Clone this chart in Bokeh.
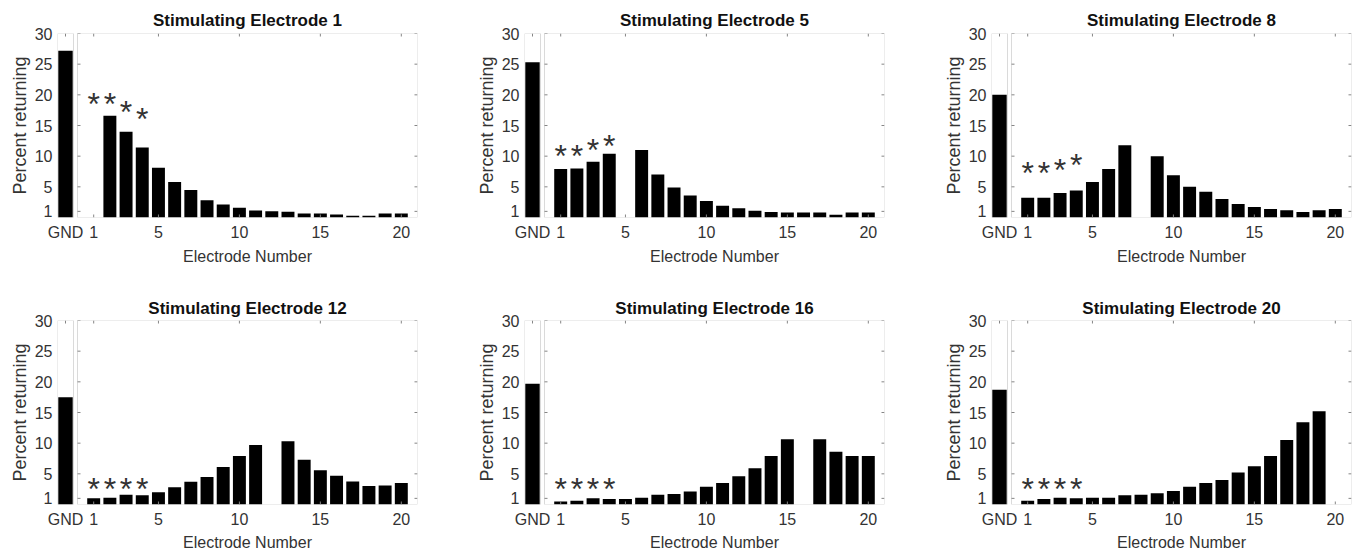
from bokeh.plotting import figure
from bokeh.layouts import row, column
from bokeh.models import Range1d, FixedTicker, LinearAxis, BoxAnnotation, Title
from bokeh.embed import file_html
from bokeh.resources import INLINE
from bokeh.core.properties import value

# ---------------- data ----------------
stim_electrodes = [1, 5, 8, 12, 16, 20]
electrodes = list(range(1, 21))
gnd_values = [27.2, 25.3, 20.0, 17.5, 19.7, 18.7]

returns_e1 = [None, 16.6, 14.0, 11.4, 8.1, 5.8, 4.5, 2.8, 2.1, 1.6,
              1.15, 1.0, 0.93, 0.65, 0.65, 0.5, 0.27, 0.27, 0.65, 0.65]
returns_e5 = [7.9, 8.0, 9.1, 10.4, None, 11.0, 7.0, 4.9, 3.6, 2.7,
              1.9, 1.5, 1.1, 0.9, 0.8, 0.8, 0.8, 0.45, 0.8, 0.8]
returns_e8 = [3.2, 3.2, 4.0, 4.4, 5.8, 7.9, 11.8, None, 10.0, 6.9,
              5.0, 4.2, 3.0, 2.2, 1.7, 1.4, 1.2, 0.9, 1.2, 1.4]
returns_e12 = [1.0, 1.1, 1.6, 1.5, 2.0, 2.8, 3.7, 4.5, 6.1, 7.9,
               9.7, None, 10.3, 7.3, 5.6, 4.7, 3.75, 3.0, 3.1, 3.5]
returns_e16 = [0.5, 0.6, 1.0, 0.9, 0.9, 1.1, 1.6, 1.7, 2.1, 2.9,
               3.5, 4.6, 5.9, 7.9, 10.65, None, 10.65, 8.6, 7.9, 7.9]
returns_e20 = [0.6, 0.9, 1.1, 1.0, 1.1, 1.1, 1.5, 1.6, 1.85, 2.2,
               2.9, 3.5, 4.0, 5.2, 6.25, 7.9, 10.5, 13.4, 15.2, None]
all_returns = [returns_e1, returns_e5, returns_e8, returns_e12, returns_e16, returns_e20]

star_electrodes = [1, 2, 3, 4]
stars_e1 = [19.4, 19.4, 18.0, 16.8]
stars_e5 = [10.8, 10.8, 11.9, 12.5]
stars_e8 = [8.1, 8.1, 8.6, 9.3]
stars_e12 = [3.4, 3.4, 3.4, 3.4]
stars_e16 = [3.4, 3.4, 3.4, 3.4]
stars_e20 = [3.4, 3.4, 3.4, 3.4]
all_stars = [stars_e1, stars_e5, stars_e8, stars_e12, stars_e16, stars_e20]

y_ticks = [1, 5, 10, 15, 20, 25, 30]
x_ticks = [1, 5, 10, 15, 20]
gnd_label = "GND"

# ---------------- geometry (pixels) ----------------
MAIN_PX, GAP_PX, GND_PX = 340, 4, 16
FRAME_W = MAIN_PX + GAP_PX + GND_PX
FRAME_H = 184
col_borders = [(57, 50), (57, 50), (57, 7)]
row_borders = [(33, 75), (28, 48)]
Y_MAX = 30
X_MAX = 21

u = MAIN_PX / X_MAX                      # px per electrode
x_start = -(GAP_PX + GND_PX) / u         # left edge of GND box
gnd_right = -GAP_PX / u                  # right edge of GND box
gnd_pos = (x_start + gnd_right) / 2      # GND bar centre
tick_dx = 3 / u
tick_dy = 3 * Y_MAX / FRAME_H

FONT = "Liberation Sans"
TXT = "#333333"
BOX = "#858585"


def text_width(s, size, bold=False):
    # approximate Arial/Liberation advance widths (per em)
    w_reg = {"E": .667, "l": .222, "e": .556, "c": .5, "t": .278, "r": .333, "o": .556,
             "d": .556, " ": .278, "N": .722, "u": .556, "m": .833, "b": .556,
             "S": .667, "i": .222, "a": .556, "n": .556, "g": .556}
    w_bold = {"E": .667, "l": .278, "e": .556, "c": .556, "t": .333, "r": .389, "o": .611,
              "d": .611, " ": .278, "S": .667, "i": .278, "m": .889, "u": .611, "a": .556,
              "n": .611, "g": .611}
    tbl = w_bold if bold else w_reg
    return sum(tbl.get(ch, .556) for ch in s) * size


rows = []
for r in range(2):
    figs = []
    for c in range(3):
        i = r * 3 + c
        stim = stim_electrodes[i]
        bl, br = col_borders[c]
        bt, bb = row_borders[r]
        p = figure(width=bl + FRAME_W + br, height=bt + FRAME_H + bb,
                   x_range=Range1d(x_start, X_MAX), y_range=Range1d(0, Y_MAX),
                   output_backend="svg", toolbar_location=None,
                   x_axis_location=None, y_axis_location=None,
                   min_border_left=bl, min_border_right=br,
                   min_border_top=bt, min_border_bottom=bb)
        p.outline_line_color = None
        p.grid.grid_line_color = None
        p.background_fill_color = "white"
        p.border_fill_color = "white"

        # boxes
        p.add_layout(BoxAnnotation(left=x_start, right=gnd_right, bottom=0, top=Y_MAX,
                                   fill_color=None, line_color=BOX, line_width=1))
        p.add_layout(BoxAnnotation(left=0, right=X_MAX, bottom=0, top=Y_MAX,
                                   fill_color=None, line_color=BOX, line_width=1))

        # bars
        p.vbar(x=[gnd_pos], top=[gnd_values[i]], width=0.9 * GND_PX / u, bottom=0,
               fill_color="black", line_color=None)
        vals = all_returns[i]
        xs = [e for e, v in zip(electrodes, vals) if v is not None]
        ys = [v for v in vals if v is not None]
        p.vbar(x=xs, top=ys, width=0.8, bottom=0, fill_color="black", line_color=None)

        # significance stars
        p.text(x=star_electrodes, y=all_stars[i], text=["*"] * len(star_electrodes),
               text_font=value(FONT), text_font_size="32px", text_align="center",
               text_baseline="alphabetic", y_offset=5, text_color=TXT)

        # inner tick marks (box edges)
        p.segment(x0=[0] * len(y_ticks), x1=[tick_dx] * len(y_ticks), y0=y_ticks, y1=y_ticks,
                  line_color=BOX, line_width=1)
        p.segment(x0=[X_MAX] * len(y_ticks), x1=[X_MAX - tick_dx] * len(y_ticks),
                  y0=y_ticks, y1=y_ticks, line_color=BOX, line_width=1)
        tx = [gnd_pos] + x_ticks
        p.segment(x0=tx, x1=tx, y0=[Y_MAX] * len(tx), y1=[Y_MAX - tick_dy] * len(tx),
                  line_color=BOX, line_width=1)
        p.segment(x0=x_ticks, x1=x_ticks, y0=[0] * len(x_ticks), y1=[tick_dy] * len(x_ticks),
                  line_color=BOX, line_width=1)

        # left axis (labels)
        ly = LinearAxis(ticker=FixedTicker(ticks=y_ticks))
        ly.axis_line_color = None
        ly.major_tick_in = 0
        ly.major_tick_out = 0
        ly.minor_tick_line_color = None
        ly.major_label_text_font = FONT
        ly.major_label_text_font_size = "16px"
        ly.major_label_text_color = TXT
        ly.major_label_standoff = 5
        ly.axis_label = "Percent returning"
        ly.axis_label_text_font = FONT
        ly.axis_label_text_font_size = "18px"
        ly.axis_label_text_font_style = "normal"
        ly.axis_label_text_color = TXT
        ly.axis_label_standoff = 2
        p.add_layout(ly, "left")

        # bottom axis (labels)
        bx = LinearAxis(ticker=FixedTicker(ticks=tx))
        bx.major_label_overrides = {gnd_pos: gnd_label}
        bx.axis_line_color = None
        bx.major_tick_in = 0
        bx.major_tick_out = 0
        bx.minor_tick_line_color = None
        bx.major_label_text_font = FONT
        bx.major_label_text_font_size = "16px"
        bx.major_label_text_color = TXT
        bx.major_label_standoff = 6
        p.add_layout(bx, "below")

        # x label, centred under the electrode box
        xl = "Electrode Number"
        xt = Title(text=xl, align="left",
                   offset=GND_PX + GAP_PX + (MAIN_PX - text_width(xl, 16)) / 2,
                   text_font=FONT, text_font_size="16px", text_font_style="normal",
                   text_color=TXT, standoff=4 if r == 0 else 2)
        p.add_layout(xt, "below")

        # title, centred over the electrode box
        tt = "Stimulating Electrode %d" % stim
        p.title.text = tt
        p.title.align = "left"
        p.title.offset = GND_PX + GAP_PX + (MAIN_PX - text_width(tt, 17, True)) / 2
        p.title.text_font = FONT
        p.title.text_font_size = "17px"
        p.title.text_font_style = "bold"
        p.title.text_color = "#111111"
        p.title.standoff = 8 if r == 0 else 6
        figs.append(p)
    rows.append(row(*figs))

layout = column(*rows)
open("out.html", "w").write(file_html(layout, INLINE))
